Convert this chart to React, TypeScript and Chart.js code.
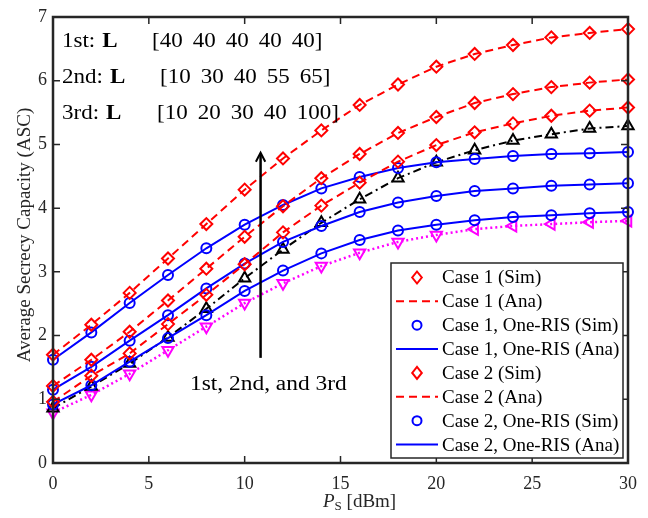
import React, { useEffect, useRef } from "react";
import { Chart, registerables } from "chart.js";

Chart.register(...registerables);

const psDbm = [0, 2, 4, 6, 8, 10, 12, 14, 16, 18, 20, 22, 24, 26, 28, 30];
const redFirst = [1.7, 2.17, 2.67, 3.21, 3.75, 4.29, 4.78, 5.22, 5.62, 5.94, 6.22, 6.42, 6.56, 6.68, 6.75, 6.81];
const redSecond = [1.21, 1.62, 2.06, 2.55, 3.05, 3.55, 4.03, 4.47, 4.85, 5.18, 5.43, 5.65, 5.79, 5.9, 5.97, 6.02];
const redThird = [0.96, 1.37, 1.72, 2.18, 2.64, 3.12, 3.62, 4.04, 4.4, 4.73, 4.99, 5.19, 5.33, 5.45, 5.53, 5.58];
const blueFirst = [1.62, 2.05, 2.51, 2.95, 3.37, 3.74, 4.05, 4.31, 4.49, 4.63, 4.72, 4.77, 4.82, 4.85, 4.86, 4.88];
const blueSecond = [1.15, 1.51, 1.92, 2.32, 2.74, 3.13, 3.47, 3.72, 3.94, 4.09, 4.19, 4.27, 4.31, 4.35, 4.37, 4.39];
const blueThird = [0.92, 1.22, 1.59, 1.96, 2.32, 2.7, 3.02, 3.29, 3.5, 3.65, 3.74, 3.81, 3.86, 3.89, 3.92, 3.94];
const blackCurve = [0.86, 1.2, 1.56, 1.97, 2.42, 2.9, 3.35, 3.77, 4.14, 4.47, 4.72, 4.91, 5.06, 5.16, 5.25, 5.29];
const magentaCurve = [0.79, 1.07, 1.4, 1.77, 2.14, 2.51, 2.82, 3.09, 3.3, 3.47, 3.58, 3.67, 3.72, 3.75, 3.78, 3.8];

const xTickValues = [0, 5, 10, 15, 20, 25, 30];
const yTickValues = [0, 1, 2, 3, 4, 5, 6, 7];

const legendLabels = [
  "Case 1 (Sim)",
  "Case 1 (Ana)",
  "Case 1, One-RIS (Sim)",
  "Case 1, One-RIS (Ana)",
  "Case 2 (Sim)",
  "Case 2 (Ana)",
  "Case 2, One-RIS (Sim)",
  "Case 2, One-RIS (Ana)",
];

const rowLabels = ["1st:", "2nd:", "3rd:"];
const lFirst = [40, 40, 40, 40, 40];
const lSecond = [10, 30, 40, 55, 65];
const lThird = [10, 20, 30, 40, 100];
const arrowText = "1st, 2nd, and 3rd";
const yTitle = "Average Secrecy Capacity (ASC)";

const SERIF = '"Liberation Serif", "Times New Roman", serif';
const AXIS = "#262626";
const RED = "#ff0000";
const BLUE = "#0000ff";
const MAGENTA = "#ff00ff";

function mk(data: number[], color: string, dash: number[], style: string, radius: number, rotation: any = 0, width = 2) {
  return {
    data: psDbm.map((x, i) => ({ x, y: data[i] })),
    borderColor: color,
    borderWidth: width,
    borderDash: dash,
    pointStyle: style,
    pointRadius: radius,
    pointBorderColor: color,
    pointBackgroundColor: "rgba(0,0,0,0)",
    pointBorderWidth: 2,
    pointRotation: rotation,
    tension: 0,
    fill: false,
    clip: false,
  };
}

function stretchText(ctx: CanvasRenderingContext2D, text: string, x: number, y: number, sx: number) {
  ctx.save();
  ctx.translate(x, y);
  ctx.scale(sx, 1);
  ctx.fillText(text, 0, 0);
  const w = ctx.measureText(text).width * sx;
  ctx.restore();
  return w;
}

function marker(ctx: CanvasRenderingContext2D, kind: string, x: number, y: number, color: string) {
  ctx.save();
  ctx.strokeStyle = color;
  ctx.lineWidth = 2;
  ctx.setLineDash([]);
  ctx.beginPath();
  if (kind === "diamond") {
    const r = 6;
    ctx.moveTo(x, y - r);
    ctx.lineTo(x + r * 0.8, y);
    ctx.lineTo(x, y + r);
    ctx.lineTo(x - r * 0.8, y);
    ctx.closePath();
  } else {
    ctx.arc(x, y, 4.5, 0, Math.PI * 2);
  }
  ctx.stroke();
  ctx.restore();
}

const framePlugin = {
  id: "frame",
  afterDatasetsDraw(chart: any) {
    const { ctx, chartArea: a, scales } = chart;
    const xs = scales.x;
    const ys = scales.y;
    ctx.save();
    // inner ticks
    ctx.strokeStyle = AXIS;
    ctx.lineWidth = 1.5;
    ctx.beginPath();
    xTickValues.forEach((v) => {
      const px = xs.getPixelForValue(v);
      ctx.moveTo(px, a.bottom);
      ctx.lineTo(px, a.bottom - 7);
      ctx.moveTo(px, a.top);
      ctx.lineTo(px, a.top + 7);
    });
    yTickValues.forEach((v) => {
      const py = ys.getPixelForValue(v);
      ctx.moveTo(a.left, py);
      ctx.lineTo(a.left + 7, py);
      ctx.moveTo(a.right, py);
      ctx.lineTo(a.right - 7, py);
    });
    ctx.stroke();
    ctx.lineWidth = 2.5;
    ctx.strokeRect(a.left, a.top, a.right - a.left, a.bottom - a.top);

    // annotation rows
    ctx.fillStyle = "#000";
    ctx.textBaseline = "alphabetic";
    ctx.textAlign = "left";
    const vecs = [lFirst, lSecond, lThird];
    const bracketX = [99, 107, 104];
    rowLabels.forEach((lab, i) => {
      const base = a.top + 30 + 36 * i;
      ctx.font = `20px ${SERIF}`;
      const w = stretchText(ctx, lab, a.left + 9, base, 1.15);
      ctx.font = `bold 20px ${SERIF}`;
      stretchText(ctx, "L", a.left + 9 + w + 7, base, 1.15);
      ctx.font = `20px ${SERIF}`;
      let cx = a.left + bracketX[i];
      cx += stretchText(ctx, "[", cx, base, 1.15);
      vecs[i].forEach((n, j) => {
        cx += stretchText(ctx, String(n), cx, base, 1.15);
        if (j < vecs[i].length - 1) cx += 10;
      });
      stretchText(ctx, "]", cx, base, 1.15);
    });

    // arrow
    const ax = xs.getPixelForValue(10.83);
    const ay0 = ys.getPixelForValue(1.65);
    const ay1 = ys.getPixelForValue(4.87);
    ctx.strokeStyle = "#000";
    ctx.lineWidth = 2.5;
    ctx.beginPath();
    ctx.moveTo(ax, ay0);
    ctx.lineTo(ax, ay1 + 1);
    ctx.stroke();
    ctx.lineWidth = 2;
    ctx.beginPath();
    ctx.moveTo(ax - 4.7, ay1 + 9);
    ctx.lineTo(ax, ay1);
    ctx.lineTo(ax + 4.7, ay1 + 9);
    ctx.stroke();
    ctx.font = `20px ${SERIF}`;
    stretchText(ctx, arrowText, xs.getPixelForValue(7.15), ys.getPixelForValue(1.15), 1.17);

    // legend
    const lx = 391, ly = 263, lw = 232, lh = 195;
    ctx.fillStyle = "#fff";
    ctx.fillRect(lx, ly, lw, lh);
    ctx.strokeStyle = AXIS;
    ctx.lineWidth = 1.5;
    ctx.strokeRect(lx, ly, lw, lh);
    ctx.font = `19px ${SERIF}`;
    ctx.textBaseline = "middle";
    legendLabels.forEach((lab, i) => {
      const cy = 277.5 + i * 23.86;
      const isCase = i % 4 < 2;
      const color = isCase ? RED : BLUE;
      if (i % 2 === 0) {
        marker(ctx, isCase ? "diamond" : "circle", 417, cy, color);
      } else {
        ctx.save();
        ctx.strokeStyle = color;
        ctx.lineWidth = 2;
        ctx.setLineDash(isCase ? [8, 5] : []);
        ctx.beginPath();
        ctx.moveTo(396, cy);
        ctx.lineTo(438, cy);
        ctx.stroke();
        ctx.restore();
      }
      ctx.fillStyle = "#000";
      ctx.fillText(lab, 442, cy + 1);
    });

    // axis titles
    ctx.fillStyle = AXIS;
    ctx.textBaseline = "alphabetic";
    ctx.font = `italic 19px ${SERIF}`;
    const tx = 323;
    const tb = 507;
    ctx.fillText("P", tx, tb);
    const pw = ctx.measureText("P").width;
    ctx.font = `13px ${SERIF}`;
    ctx.fillText("S", tx + pw, tb + 3);
    const sw = ctx.measureText("S").width;
    ctx.font = `19px ${SERIF}`;
    ctx.fillText(" [dBm]", tx + pw + sw, tb);

    ctx.save();
    ctx.translate(25, (a.top + a.bottom) / 2 - 5);
    ctx.rotate(-Math.PI / 2);
    ctx.textAlign = "center";
    ctx.textBaseline = "middle";
    ctx.font = `19px ${SERIF}`;
    ctx.fillText(yTitle, 0, 0);
    ctx.restore();

    ctx.restore();
  },
};

export default function App() {
  const ref = useRef<HTMLCanvasElement | null>(null);
  useEffect(() => {
    if (!ref.current) return;
    const datasets = [
      mk(redFirst, RED, [8, 5], "rectRot", 6),
      mk(redSecond, RED, [8, 5], "rectRot", 6),
      mk(redThird, RED, [8, 5], "rectRot", 6),
      mk(blueFirst, BLUE, [], "circle", 5),
      mk(blueSecond, BLUE, [], "circle", 5),
      mk(blueThird, BLUE, [], "circle", 5),
      mk(blackCurve, "#000", [8, 4, 2, 4], "triangle", 6.5),
      mk(magentaCurve, MAGENTA, [2, 3], "triangle", 6.5, psDbm.map((x) => (x <= 20 ? 180 : 270)), 2.5),
    ];
    const chart = new Chart(ref.current, {
      type: "line",
      data: { datasets } as any,
      options: {
        responsive: false,
        animation: false,
        events: [],
        layout: { padding: { top: 17, right: 20, left: 0, bottom: 0 } },
        plugins: { legend: { display: false }, tooltip: { enabled: false } },
        scales: {
          x: {
            type: "linear",
            min: 0,
            max: 30,
            afterBuildTicks: (s: any) => {
              s.ticks = xTickValues.map((v) => ({ value: v }));
            },
            afterFit: (s: any) => {
              s.height = 55;
            },
            grid: { display: false, drawTicks: false },
            border: { display: false },
            ticks: { font: { family: SERIF, size: 18 }, color: AXIS, padding: 10, maxRotation: 0 },
          },
          y: {
            type: "linear",
            min: 0,
            max: 7,
            afterBuildTicks: (s: any) => {
              s.ticks = yTickValues.map((v) => ({ value: v }));
            },
            afterFit: (s: any) => {
              s.width = 53;
            },
            grid: { display: false, drawTicks: false },
            border: { display: false },
            ticks: { font: { family: SERIF, size: 18 }, color: AXIS, padding: 6 },
          },
        },
      } as any,
      plugins: [framePlugin],
    });
    return () => chart.destroy();
  }, []);
  return (
    <div style={{ position: "fixed", left: 0, top: 0, width: 648, height: 518, background: "#fff" }}>
      <canvas ref={ref} width={648} height={518} style={{ display: "block" }} />
    </div>
  );
}
